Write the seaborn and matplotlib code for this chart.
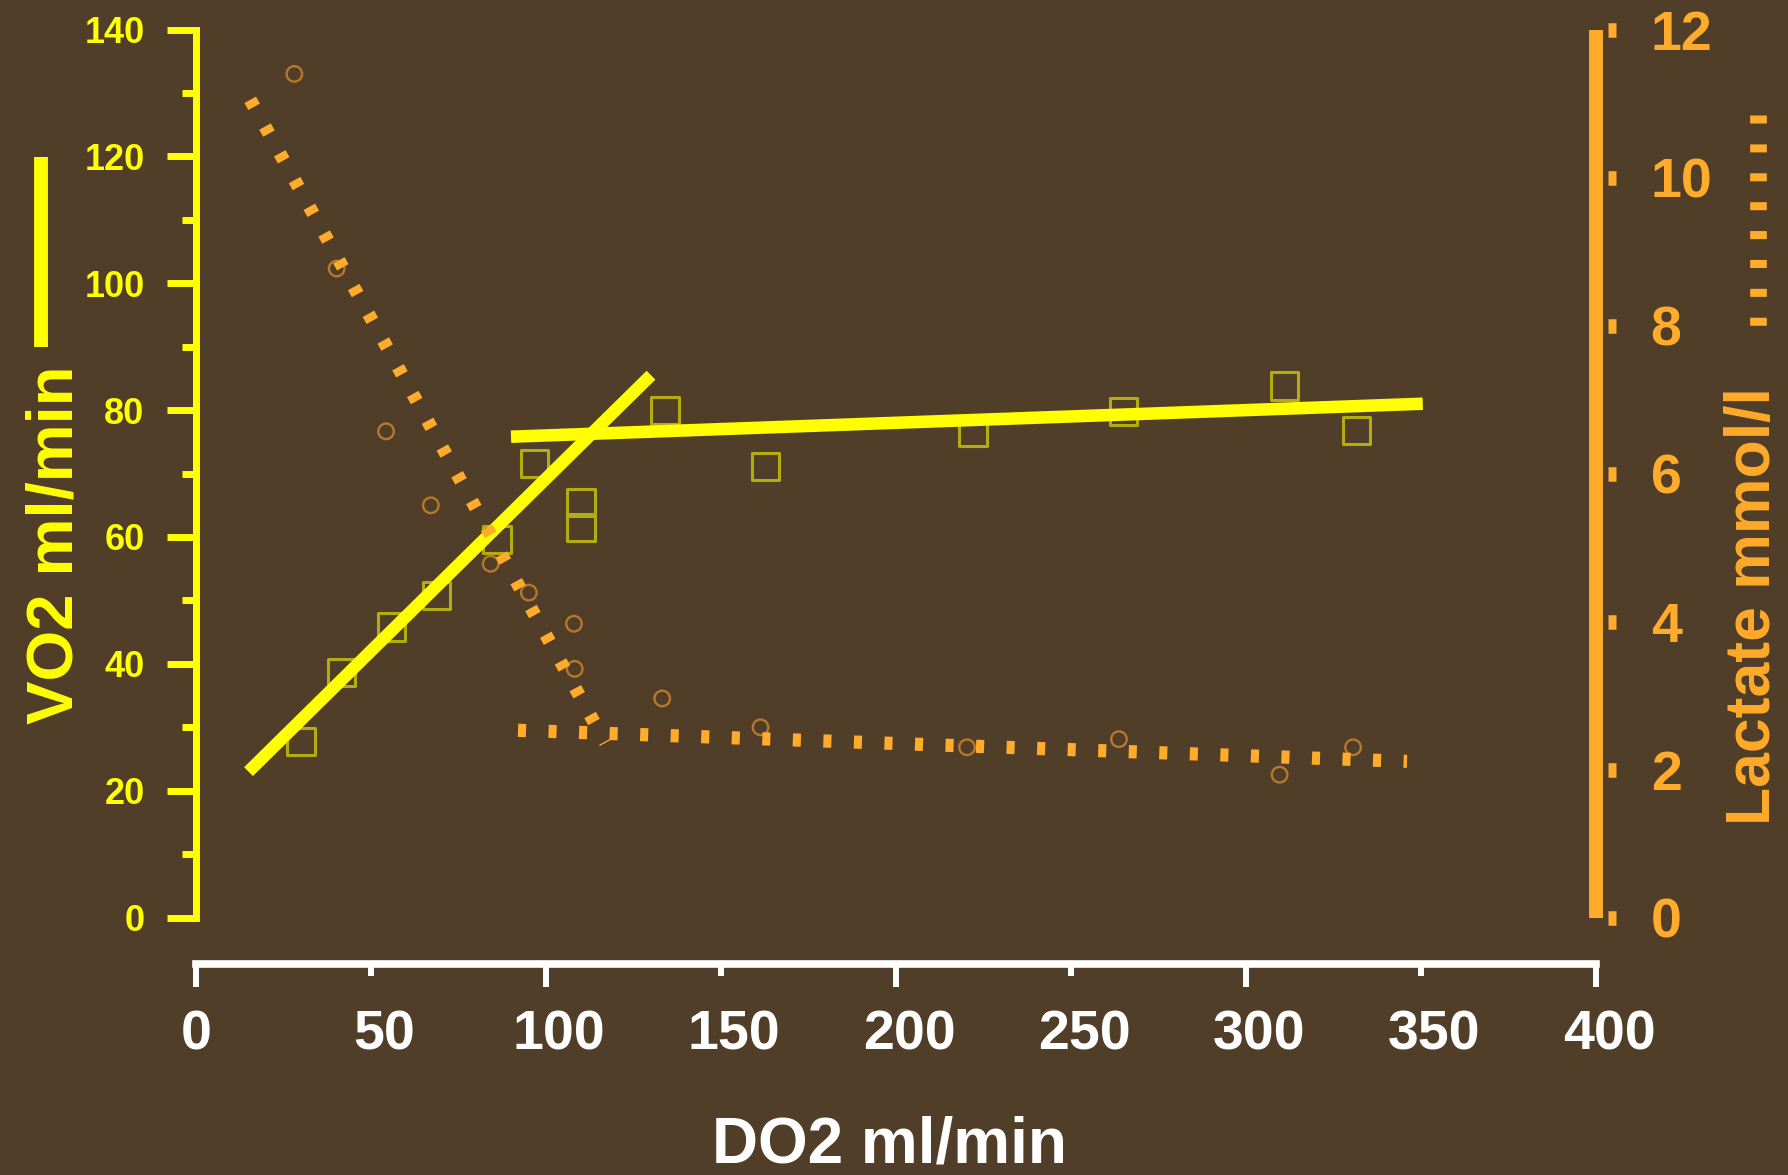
import matplotlib
matplotlib.use("Agg")
import matplotlib.pyplot as plt
from matplotlib.lines import Line2D
from matplotlib.transforms import ScaledTranslation
import numpy as np
import pandas as pd
import seaborn as sns

# Measured VO2 against oxygen delivery (ml/min)
do2_vo2 = [30.0, 41.5, 55.8, 68.8, 86.0, 96.6, 110.0, 110.0, 134.0, 162.6, 222.0, 265.0, 311.0, 331.7]
vo2 = [27.7, 38.6, 45.8, 50.7, 59.6, 71.6, 65.5, 61.5, 79.9, 71.1, 76.5, 79.8, 83.8, 76.8]

# Measured lactate against oxygen delivery (mmol/l)
do2_lac = [28.1, 40.2, 54.3, 67.1, 84.2, 95.1, 108.0, 108.2, 133.2, 161.3, 220.3, 263.7, 309.6, 330.6]
lactate = [11.40, 8.77, 6.57, 5.57, 4.78, 4.39, 3.97, 3.36, 2.96, 2.57, 2.30, 2.41, 1.93, 2.30]

# Regression lines: supply-dependent and supply-independent phases
vo2_dep_x = [15.0, 130.0]
vo2_dep_y = [23.0, 85.5]
vo2_ind_x = [90.0, 350.5]
vo2_ind_y = [75.8, 81.0]

lac_dep_x = [15.5, 117.0]
lac_dep_y = [11.05, 2.36]
lac_ind_x = [92.0, 346.0]
lac_ind_y = [2.53, 2.11]

# Axis ticks
x_major = [0, 100, 200, 300, 400]
x_minor = [50, 150, 250, 350]
vo2_major = [0, 20, 40, 60, 80, 100, 120, 140]
vo2_minor = [10, 30, 50, 70, 90, 110, 130]
lac_major = [0, 2, 4, 6, 8, 10, 12]

BG = "#503e28"
YELLOW = "#ffff00"
ORANGE = "#ffab2b"
SQUARE_EDGE = "#b3ad12"
CIRCLE_EDGE = "#b7782c"
WHITE = "#ffffff"

sns.set_theme(style="ticks")
plt.rcParams["font.family"] = ["Liberation Sans", "DejaVu Sans"]
plt.rcParams["font.weight"] = "bold"
plt.rcParams["lines.scale_dashes"] = False

W, H = 1788, 1175
fig = plt.figure(figsize=(W / 100, H / 100), dpi=100, facecolor=BG)
ax = fig.add_axes([196 / W, (H - 917.5) / H, 1400 / W, 888 / H])
ax.set_facecolor(BG)
ax2 = ax.twinx()

vo2_df = pd.DataFrame({"DO2": do2_vo2, "VO2": vo2})
lac_df = pd.DataFrame({"DO2": do2_lac, "Lactate": lactate})

# VO2 points and fitted lines (left axis)
sns.scatterplot(data=vo2_df, x="DO2", y="VO2", ax=ax, marker="s", s=380,
                color=SQUARE_EDGE, facecolor="none", edgecolor=SQUARE_EDGE,
                linewidth=2.2, zorder=2)
ax.collections[-1].set_facecolor("none")
for xs, ys in [(vo2_dep_x, vo2_dep_y), (vo2_ind_x, vo2_ind_y)]:
    sns.lineplot(x=xs, y=ys, ax=ax, color=YELLOW, linewidth=9,
                 solid_capstyle="butt", zorder=3)

# Lactate points and fitted dotted lines (right axis)
sns.scatterplot(data=lac_df, x="DO2", y="Lactate", ax=ax2, marker="o", s=125,
                color=CIRCLE_EDGE, facecolor="none", edgecolor=CIRCLE_EDGE,
                linewidth=1.7, zorder=2)
ax2.collections[-1].set_facecolor("none")
for xs, ys in [(lac_dep_x, lac_dep_y), (lac_ind_x, lac_ind_y)]:
    sns.lineplot(x=xs, y=ys, ax=ax2, color=ORANGE, linewidth=9.5, zorder=3)
    ln = ax2.lines[-1]
    ln.set_dashes((5.8, 16.2))
    ln.set_dash_capstyle("butt")

# Limits and spines
ax.set_xlim(0, 400)
ax.set_ylim(0, 140)
ax2.set_ylim(0, 12)
ax.set_xlabel("")
ax.set_ylabel("")
ax2.set_ylabel("")

for sp in ["top", "right"]:
    ax.spines[sp].set_visible(False)
for sp in ["top", "left", "bottom"]:
    ax2.spines[sp].set_visible(False)

ax.spines["left"].set_color(YELLOW)
ax.spines["left"].set_linewidth(5)
ax.spines["bottom"].set_color(WHITE)
ax.spines["bottom"].set_linewidth(5.5)
ax.spines["bottom"].set_position(("outward", 33.5))

# Right axis: ticks sit slightly away from a thick orange bar
ax2.spines["right"].set_position(("outward", 8.6))
ax2.spines["right"].set_visible(False)
ax2.add_line(Line2D([1, 1], [0, 1], transform=ax2.transAxes, color=ORANGE,
                    lw=10, solid_capstyle="butt", clip_on=False))

# Left ticks
ax.set_yticks(vo2_major)
ax.set_yticks(vo2_minor, minor=True)
ax.tick_params(axis="y", which="major", length=21, width=5, color=YELLOW,
               labelcolor=YELLOW, labelsize=26, pad=16)
ax.tick_params(axis="y", which="minor", length=10, width=5, color=YELLOW)

# Bottom ticks: long at hundreds, short at fifties
ax.set_xticks(x_major, labels=[str(v) for v in x_major])
ax.set_xticks(x_minor, labels=[str(v) for v in x_minor], minor=True)
ax.tick_params(axis="x", which="major", length=16.5, width=4.3, color=WHITE,
               labelcolor=WHITE, labelsize=40, pad=16)
ax.tick_params(axis="x", which="minor", length=8.6, width=4.3, color=WHITE,
               labelcolor=WHITE, labelsize=40, pad=16 + 16.5 - 8.6)

# Right ticks
ax2.set_yticks(lac_major)
ax2.tick_params(axis="y", which="major", length=5.8, width=10.5, color=ORANGE,
                labelcolor=ORANGE, labelsize=40, pad=25)

for lab in ax.get_xticklabels(which="both"):
    lab.set_fontweight("bold")
for lab in ax.get_yticklabels() + ax2.get_yticklabels():
    lab.set_fontweight("bold")

shift = ScaledTranslation(0.13, 0, fig.dpi_scale_trans)
for tick in ax.xaxis.get_major_ticks() + ax.xaxis.get_minor_ticks():
    if tick.label1.get_text() != "0":
        tick.label1.set_transform(tick.label1.get_transform() + shift)

# Axis titles with line-style keys
fig.text(73 / W, 1 - 545 / H, "VO2 ml/min", rotation=90, rotation_mode="anchor",
         ha="center", va="baseline", color=YELLOW, fontsize=47, fontweight="bold")
fig.text(1770 / W, 1 - 606 / H, "Lactate mmol/l", rotation=90, rotation_mode="anchor",
         ha="center", va="baseline", color=ORANGE, fontsize=45, fontweight="bold")
fig.text(890 / W, (H - 1163) / H, "DO2 ml/min", ha="center", va="baseline",
         color=WHITE, fontsize=46, fontweight="bold")

fig.add_artist(Line2D([41 / W, 41 / W], [1 - 157 / H, 1 - 347 / H], color=YELLOW,
                      lw=10, solid_capstyle="butt"))
fig.add_artist(Line2D([1758 / W, 1758 / W], [1 - 115 / H, 1 - 326 / H], color=ORANGE,
                      lw=12, dashes=(5.8, 15), dash_capstyle="butt"))

fig.savefig("out.png", dpi=100, facecolor=BG)
